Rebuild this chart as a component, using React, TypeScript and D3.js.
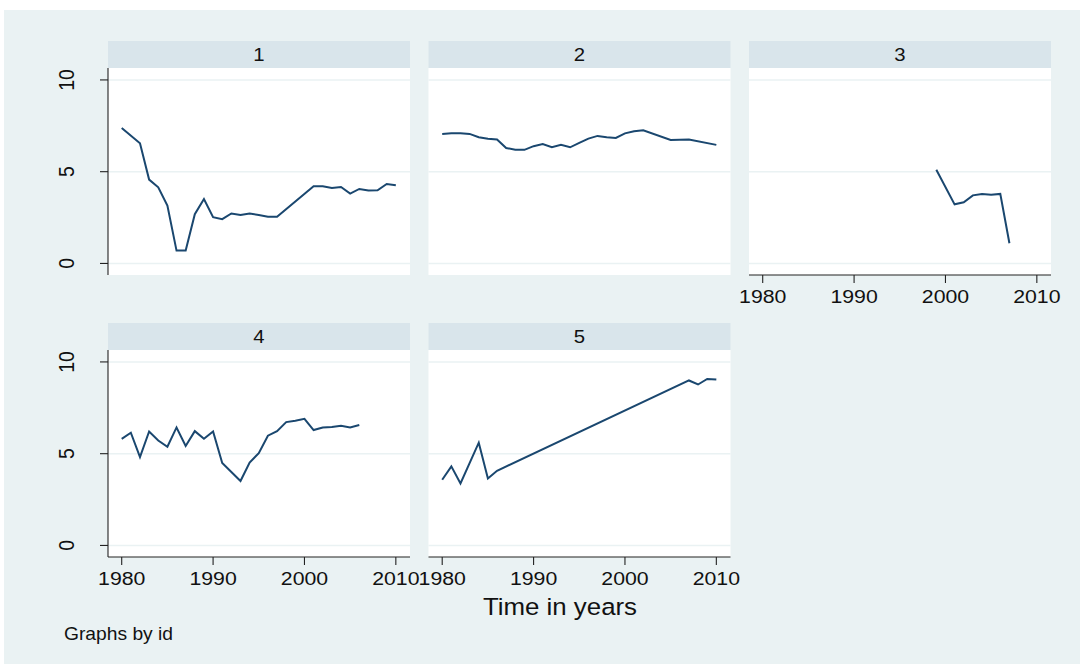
import React from "react";
import * as d3 from "d3";

// Panel identifiers (by id) and axis ticks
const panelIds = ["1", "2", "3", "4", "5"];
const xTicks = [1980, 1990, 2000, 2010];
const yTicks = [0, 5, 10];

// Series for each id: years and observed values
const years1 = [1980, 1982, 1983, 1984, 1985, 1986, 1987, 1988, 1989, 1990, 1991, 1992, 1993, 1994, 1995, 1996, 1997, 2001, 2002, 2003, 2004, 2005, 2006, 2007, 2008, 2009, 2010];
const values1 = [7.38, 6.55, 4.57, 4.15, 3.15, 0.7, 0.7, 2.68, 3.51, 2.52, 2.41, 2.72, 2.64, 2.72, 2.64, 2.55, 2.55, 4.21, 4.21, 4.11, 4.17, 3.81, 4.06, 3.97, 3.99, 4.33, 4.26];

const years2 = [1980, 1981, 1982, 1983, 1984, 1985, 1986, 1987, 1988, 1989, 1990, 1991, 1992, 1993, 1994, 1995, 1996, 1997, 1998, 1999, 2000, 2001, 2002, 2005, 2007, 2010];
const values2 = [7.06, 7.09, 7.09, 7.06, 6.88, 6.8, 6.75, 6.29, 6.2, 6.19, 6.39, 6.51, 6.33, 6.47, 6.33, 6.57, 6.8, 6.95, 6.88, 6.84, 7.09, 7.2, 7.26, 6.73, 6.75, 6.46];

const years3 = [1999, 2001, 2002, 2003, 2004, 2005, 2006, 2007];
const values3 = [5.11, 3.22, 3.33, 3.71, 3.79, 3.75, 3.79, 1.1];

const years4 = [1980, 1981, 1982, 1983, 1984, 1985, 1986, 1987, 1988, 1989, 1990, 1991, 1993, 1994, 1995, 1996, 1997, 1998, 1999, 2000, 2001, 2002, 2003, 2004, 2005, 2006];
const values4 = [5.81, 6.14, 4.82, 6.21, 5.72, 5.38, 6.43, 5.42, 6.23, 5.81, 6.21, 4.49, 3.51, 4.52, 5.03, 5.98, 6.23, 6.72, 6.8, 6.9, 6.29, 6.43, 6.45, 6.52, 6.43, 6.56];

const years5 = [1980, 1981, 1982, 1984, 1985, 1986, 2007, 2008, 2009, 2010];
const values5 = [3.58, 4.31, 3.38, 5.6, 3.65, 4.07, 8.99, 8.77, 9.07, 9.04];

const seriesYears = [years1, years2, years3, years4, years5];
const seriesValues = [values1, values2, values3, values4, values5];

const xTitle = "Time in years";
const note = "Graphs by id";

// Layout
const W = 1080;
const H = 664;
const LEFT0 = 108;
const COL_STEP = 320.5;
const PANEL_W = 302;
const ROW_TOPS = [41, 323];
const STRIP_H = 27;
const PLOT_H = 207;
const NCOL = 3;

const BG = "#EAF2F3";
const STRIP = "#D9E5EB";
const GRID = "#EAF2F3";
const LINE = "#1A476F";
const AXIS = "#222";
const FONT = "'Liberation Sans', Arial, Helvetica, sans-serif";
const SX = 1.1; // slight horizontal widening of the lettering
const SX_TICK = 1.15;

function Panel({ idx }: { idx: number }) {
  const col = idx % NCOL;
  const row = Math.floor(idx / NCOL);
  const left = LEFT0 + col * COL_STEP;
  const stripTop = ROW_TOPS[row];
  const plotTop = stripTop + STRIP_H;
  const plotBottom = plotTop + PLOT_H;

  const x = d3.scaleLinear().domain([1978.5, 2011.55]).range([left, left + PANEL_W]);
  const y = d3.scaleLinear().domain([-0.63, 10.65]).range([plotBottom, plotTop]);

  const yrs = seriesYears[idx];
  const vals = seriesValues[idx];
  const pts: [number, number][] = yrs.map((yr, i) => [yr, vals[i]]);
  const line = d3
    .line<[number, number]>()
    .x((d) => x(d[0]))
    .y((d) => y(d[1]));

  const showYAxis = col === 0;
  // x axis is drawn on the lowest panel of each column
  const showXAxis = idx + NCOL >= panelIds.length;

  return (
    <g>
      <rect x={left} y={stripTop} width={PANEL_W} height={STRIP_H} fill={STRIP} />
      <text
        transform={`translate(${left + PANEL_W / 2},${stripTop + 20}) scale(${SX},1)`}
        textAnchor="middle"
        fontSize={18.5}
        fontFamily={FONT}
        fill="#111"
      >
        {panelIds[idx]}
      </text>
      <rect x={left} y={plotTop} width={PANEL_W} height={PLOT_H} fill="#fff" />
      {yTicks.map((t) => (
        <line key={t} x1={left} x2={left + PANEL_W} y1={y(t)} y2={y(t)} stroke={GRID} strokeWidth={1.6} />
      ))}
      <path d={line(pts) || ""} fill="none" stroke={LINE} strokeWidth={2} strokeLinejoin="miter" />
      {showYAxis && (
        <g>
          <line x1={left} x2={left} y1={plotTop} y2={plotBottom} stroke={AXIS} strokeWidth={1.1} />
          {yTicks.map((t) => (
            <g key={t}>
              <line x1={left - 8} x2={left} y1={y(t)} y2={y(t)} stroke={AXIS} strokeWidth={1.1} />
              <text
                transform={`translate(${left - 34},${y(t)}) scale(1.15,1) rotate(-90)`}
                textAnchor="middle"
                fontSize={19.5}
                fontFamily={FONT}
                fill="#111"
              >
                {t}
              </text>
            </g>
          ))}
        </g>
      )}
      {showXAxis && (
        <g>
          <line x1={left} x2={left + PANEL_W} y1={plotBottom} y2={plotBottom} stroke={AXIS} strokeWidth={1.1} />
          {xTicks.map((t) => (
            <g key={t}>
              <line x1={x(t)} x2={x(t)} y1={plotBottom} y2={plotBottom + 8} stroke={AXIS} strokeWidth={1.1} />
              <text
                transform={`translate(${x(t)},${plotBottom + 27.5}) scale(${SX_TICK},1)`}
                textAnchor="middle"
                fontSize={18.5}
                fontFamily={FONT}
                fill="#111"
              >
                {t}
              </text>
            </g>
          ))}
        </g>
      )}
    </g>
  );
}

export default function App() {
  return (
    <svg
      width={W}
      height={H}
      viewBox={`0 0 ${W} ${H}`}
      style={{ position: "fixed", left: 0, top: 0, display: "block" }}
    >
      <rect x={0} y={0} width={W} height={H} fill="#fff" />
      <rect x={4} y={10} width={W - 4} height={H - 10} fill={BG} />
      {panelIds.map((id, i) => (
        <Panel key={id} idx={i} />
      ))}
      <text
        transform={`translate(560,615) scale(${SX},1)`}
        textAnchor="middle"
        fontSize={23.5}
        fontFamily={FONT}
        fill="#111"
      >
        {xTitle}
      </text>
      <text
        transform={`translate(64,640) scale(${SX},1)`}
        textAnchor="start"
        fontSize={17.5}
        fontFamily={FONT}
        fill="#111"
      >
        {note}
      </text>
    </svg>
  );
}
